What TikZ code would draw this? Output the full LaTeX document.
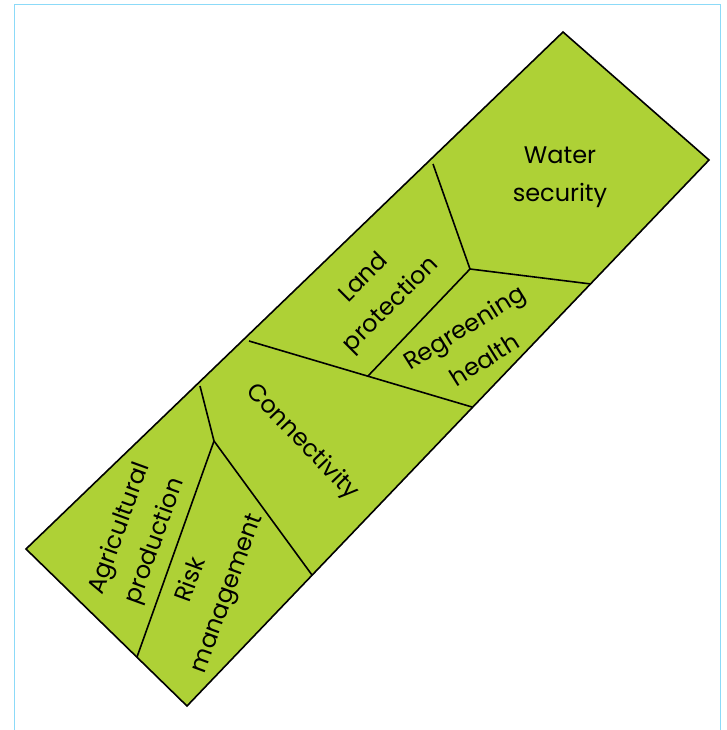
\documentclass[tikz,border=0pt]{standalone}
\usepackage{fontspec}
\setmainfont{Poppins}
\usepackage{tikz}
\usetikzlibrary{positioning}
\usepackage{xcolor}
\definecolor{leaf}{RGB}{174,209,54}
\definecolor{frameblue}{RGB}{140,218,248}

\begin{document}
\begin{tikzpicture}[x=1pt, y=-1pt, line width=1.6pt,
  part/.style={align=center, inner sep=1pt, font=\fontsize{24}{38}\selectfont},
  wall/.style={draw, line width=1.6pt}]
\useasboundingbox (0,0) rectangle (727,730);
\draw[frameblue, line width=1.3pt] (14.5,731) -- (14.5,4.8) -- (720.8,4.8) -- (720.8,731);

\coordinate (N) at (563,32);
\coordinate (E) at (709,160);
\coordinate (S) at (187,706);
\coordinate (W) at (26,549);
\filldraw[fill=leaf] (N) -- (E) -- (S) -- (W) -- cycle;

\coordinate (WStop) at (433,164);
\coordinate (WSjoin) at (470,269);
\coordinate (WSright) at (591,284);
\coordinate (LPjoin) at (368,376);
\coordinate (COtop) at (249,341);
\coordinate (COright) at (472,407);
\coordinate (APtop) at (200,386);
\coordinate (APjoin) at (214,441);
\coordinate (APbottom) at (137,657);
\coordinate (RMbottom) at (312,575);

\path[wall] (WStop) edge (WSjoin);
\path[wall] (WSjoin) edge (WSright);
\path[wall] (WSjoin) edge (LPjoin);
\path[wall] (COtop) edge (COright);
\path[wall] (APtop) edge (APjoin);
\path[wall] (APjoin) edge (APbottom);
\path[wall] (APjoin) edge (RMbottom);

\node[part] (WS) at (560,177) {Water\\security};
\node[part, rotate=45] (LP) at (378,292) {Land\\protection};
\node[part, rotate=32] (RH) at (474,343) {Regreening\\health};
\node[part, rotate=-46] (CO) at (302,442) {Connectivity};
\node[part, rotate=70] (AP) at (138,535) {Agricultural\\production};
\node[part, rotate=70] (RM) at (210,587) {Risk\\management};
\end{tikzpicture}
\end{document}
